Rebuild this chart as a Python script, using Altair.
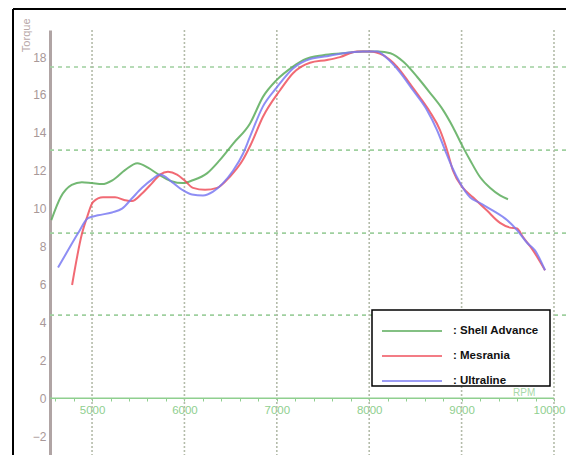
import altair as alt
import pandas as pd

# ---- data ----
series_names = ["Shell Advance", "Mesrania", "Ultraline"]
series_colors = ["#5aab5a", "#ef505c", "#7a7af2"]

green_rpm = [4560, 4660, 4780, 4890, 5000, 5110, 5220, 5360, 5490, 5610, 5720, 5860, 5980, 6090,
             6240, 6380, 6530, 6710, 6850, 7000, 7175, 7290, 7500, 7720, 7930, 8100, 8230, 8370,
             8520, 8660, 8800, 8907, 9015, 9091, 9199, 9307, 9416, 9502]
green_val = [9.4, 10.6, 11.25, 11.4, 11.35, 11.3, 11.5, 12.05, 12.4, 12.15, 11.8, 11.45, 11.35, 11.5,
             11.85, 12.55, 13.45, 14.5, 15.9, 16.8, 17.5, 17.85, 18.1, 18.2, 18.3, 18.3, 18.2, 17.75,
             16.95, 16.1, 15.2, 14.3, 13.25, 12.57, 11.67, 11.1, 10.7, 10.5]

red_rpm = [4784, 4892, 4946, 5011, 5119, 5249, 5357, 5433, 5541, 5650, 5736, 5822, 5920, 6000,
           6093, 6223, 6353, 6494, 6623, 6720, 6850, 7035, 7175, 7359, 7543, 7684, 7868, 8010,
           8150, 8300, 8440, 8560, 8658, 8766, 8842, 8907, 9015, 9123, 9275, 9416, 9524, 9600,
           9665, 9773, 9903]
red_val = [5.97, 8.7, 9.55, 10.35, 10.6, 10.6, 10.45, 10.4, 10.8, 11.35, 11.8, 11.95, 11.8, 11.5,
           11.1, 11.0, 11.1, 11.7, 12.5, 13.4, 14.85, 16.25, 17.15, 17.7, 17.85, 18.0, 18.3, 18.3,
           18.1, 17.5, 16.6, 15.8, 15.1, 14.15, 13.1, 12.0, 11.1, 10.6, 9.9, 9.25, 9.0, 8.95,
           8.5, 7.8, 6.75]

blue_rpm = [4632, 4740, 4848, 4957, 5065, 5216, 5325, 5433, 5541, 5650, 5736, 5866, 5974, 6082,
            6201, 6310, 6418, 6526, 6634, 6710, 6850, 7000, 7175, 7359, 7543, 7716, 7933, 8084,
            8190, 8333, 8474, 8626, 8734, 8820, 8896, 8983, 9091, 9199, 9340, 9491, 9600, 9708,
            9794, 9903]
blue_val = [6.9, 7.8, 8.7, 9.5, 9.65, 9.8, 10.0, 10.55, 11.1, 11.55, 11.8, 11.4, 11.0, 10.75,
            10.7, 10.9, 11.35, 12.0, 12.9, 13.8, 15.4, 16.4, 17.4, 17.9, 18.05, 18.2, 18.3, 18.3,
            17.95, 17.2, 16.25, 15.2, 14.15, 13.1, 12.2, 11.35, 10.6, 10.3, 9.9, 9.4, 8.87, 8.2,
            7.8, 6.75]

x_label_values = [5000, 6000, 7000, 8000, 9000, 10000]
x_minor_ticks = list(range(4600, 10001, 200))
y_tick_values = [-2, 0, 2, 4, 6, 8, 10, 12, 14, 16, 18]
h_grid_values = [17.48, 13.09, 8.71, 4.38]

# ---- tables ----
rows = []
for name, rpm, val in zip(series_names, [green_rpm, red_rpm, blue_rpm], [green_val, red_val, blue_val]):
    for r, v in zip(rpm, val):
        rows.append({"series": name, "rpm": r, "torque": v})
df = pd.DataFrame(rows)

FONT = "Liberation Sans"
W, H = 516, 425
xs = alt.Scale(domain=[4545, 10130], nice=False, zero=False)
ys = alt.Scale(domain=[-3.0, 19.43], nice=False, zero=False)

x_axis = alt.Axis(values=x_minor_ticks, offset=-57, domain=False, grid=False,
                  labelExpr="datum.value % 1000 === 0 ? '' + datum.value : ''",
                  labelColor="#8fcf8f", labelFontSize=11.5, labelFont=FONT,
                  labelOffset=alt.expr("datum.value === 10000 ? -5 : 0"),
                  labelPadding=3, tickColor="#8fcf8f", tickSize=3,
                  title=None)
y_axis = alt.Axis(values=y_tick_values, grid=False, ticks=False,
                  domainColor="#b0a4a4", domainWidth=3,
                  labelColor="#a89898", labelFontSize=12, labelFont=FONT,
                  labelPadding=4,
                  title="Torque", titleAngle=270, titleAlign="right",
                  titleBaseline="middle", titleX=-24, titleY=-12,
                  titleColor="#b8a8a8", titleFontSize=11, titleFont=FONT,
                  titleFontWeight="normal")

hgrid = alt.Chart(pd.DataFrame({"y": h_grid_values})).mark_rule(
    color="#9fd09f", strokeDash=[4, 4], strokeWidth=1.6
).encode(y=alt.Y("y:Q", scale=ys, axis=y_axis))

vgrid = alt.Chart(pd.DataFrame({"x": x_label_values})).mark_rule(
    color="#b4bcaa", strokeDash=[2, 2], strokeWidth=1.6
).encode(x=alt.X("x:Q", scale=xs, axis=x_axis))

xaxis_line = alt.Chart(pd.DataFrame({"x": [4545], "x2": [10000], "y": [0]})).mark_rule(
    color="#8fcf8f", strokeWidth=1.5
).encode(x=alt.X("x:Q", scale=xs, axis=x_axis), x2="x2:Q", y=alt.Y("y:Q", scale=ys, axis=y_axis))

lines = alt.Chart(df).mark_line(strokeWidth=2, interpolate="monotone", opacity=0.85).encode(
    x=alt.X("rpm:Q", scale=xs, axis=x_axis),
    y=alt.Y("torque:Q", scale=ys, axis=y_axis),
    color=alt.Color("series:N", scale=alt.Scale(domain=series_names, range=series_colors), legend=None),
)

rpm_label = alt.Chart(pd.DataFrame({"t": ["RPM"]})).mark_text(
    color="#a8d8a8", fontSize=10, font=FONT, align="left", baseline="middle"
).encode(text="t:N", x=alt.value(463), y=alt.value(363))

# frame (top and left borders)
frame_top = alt.Chart(pd.DataFrame({"a": [0]})).mark_rule(color="#000000", strokeWidth=2).encode(
    x=alt.value(-37), x2=alt.value(W + 10), y=alt.value(-21))
frame_left = alt.Chart(pd.DataFrame({"a": [0]})).mark_rule(color="#000000", strokeWidth=2).encode(
    x=alt.value(-37), y=alt.value(-21), y2=alt.value(H + 20))

# custom legend box
legend_box = alt.Chart(pd.DataFrame({"a": [0]})).mark_rect(
    fill="#ffffff", stroke="#000000", strokeWidth=1.5
).encode(x=alt.value(322), x2=alt.value(500), y=alt.value(280), y2=alt.value(356))

legend_layers = [legend_box]
for i, (name, col) in enumerate(zip(series_names, series_colors)):
    yy = 301 + 25 * i
    legend_layers.append(
        alt.Chart(pd.DataFrame({"t": [": " + name]})).mark_rule(color=col, strokeWidth=1.5).encode(
            x=alt.value(332), x2=alt.value(392), y=alt.value(yy))
    )
    legend_layers.append(
        alt.Chart(pd.DataFrame({"t": [": " + name]})).mark_text(
            align="left", baseline="middle", fontSize=11.5, fontWeight="bold", font=FONT, color="#111111"
        ).encode(text="t:N", x=alt.value(403), y=alt.value(yy))
    )

chart = alt.layer(
    hgrid, vgrid, xaxis_line, lines, rpm_label, frame_top, frame_left, *legend_layers
).properties(
    width=W, height=H,
    autosize=alt.AutoSizeParams(type="none"),
    padding={"left": 42, "top": 22, "right": 0, "bottom": 0},
    background="#ffffff",
).configure_view(stroke=None)

chart.save("out.html", embed_options={"renderer": "svg", "actions": False})
